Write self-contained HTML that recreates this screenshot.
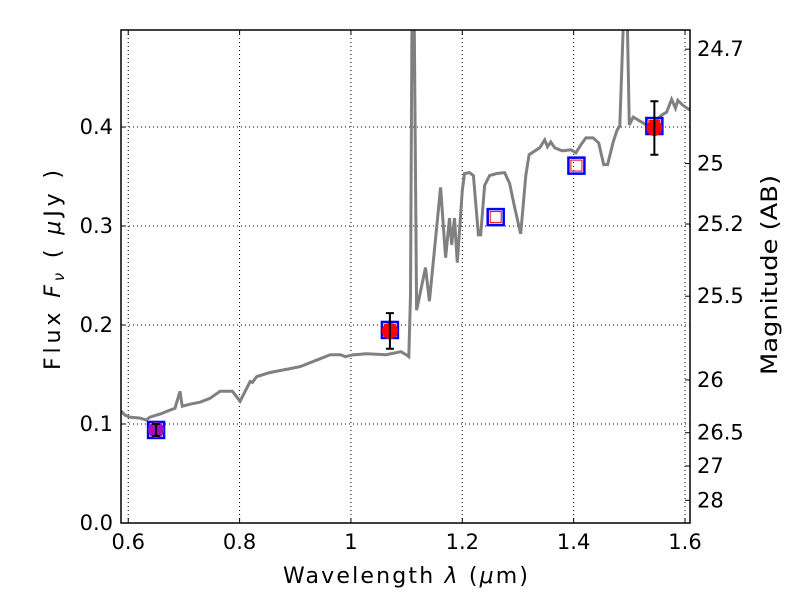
<!DOCTYPE html>
<html><head><meta charset="utf-8"><style>
body{margin:0;background:#fff;}
svg text{font-family:"DejaVu Sans","Liberation Sans",sans-serif;}
</style></head><body>
<svg id="chart" width="800" height="600" xmlns="http://www.w3.org/2000/svg"></svg>
<script>
const specWave=[0.587,0.594,0.603,0.621,0.632,0.639,0.657,0.675,0.684,0.693,0.697,0.711,0.729,0.747,0.765,0.787,0.801,0.819,0.823,0.831,0.837,0.855,0.873,0.891,0.909,0.927,0.945,0.963,0.981,0.99,1.004,1.008,1.027,1.063,1.090,1.099,1.104,1.107,1.110,1.113,1.118,1.134,1.141,1.161,1.170,1.177,1.181,1.186,1.191,1.200,1.204,1.213,1.220,1.229,1.233,1.240,1.249,1.262,1.276,1.285,1.294,1.305,1.314,1.320,1.339,1.348,1.353,1.359,1.366,1.375,1.380,1.395,1.404,1.413,1.422,1.435,1.445,1.454,1.461,1.471,1.478,1.483,1.492,1.495,1.500,1.507,1.519,1.537,1.558,1.567,1.576,1.583,1.587,1.596,1.609];
const specFlux=[0.113,0.109,0.107,0.106,0.104,0.107,0.110,0.114,0.116,0.133,0.118,0.120,0.122,0.126,0.133,0.133,0.123,0.143,0.142,0.148,0.149,0.152,0.154,0.156,0.158,0.162,0.166,0.170,0.170,0.168,0.170,0.170,0.171,0.170,0.173,0.170,0.168,0.230,0.55,0.55,0.215,0.258,0.224,0.339,0.268,0.308,0.281,0.308,0.263,0.336,0.353,0.354,0.351,0.291,0.291,0.341,0.351,0.353,0.354,0.343,0.319,0.292,0.351,0.372,0.379,0.387,0.380,0.385,0.379,0.377,0.376,0.377,0.374,0.382,0.389,0.389,0.384,0.362,0.362,0.385,0.397,0.401,0.55,0.55,0.402,0.410,0.406,0.400,0.412,0.415,0.428,0.419,0.427,0.422,0.417];
const photWave=[0.65,1.07,1.545];
const photFlux=[0.094,0.194,0.399];
const photErr=[0.006,0.018,0.027];
const photColor=['#a010c0','#ff0000','#ff0000'];
const modelWave=[0.65,1.07,1.26,1.405,1.545];
const modelFlux=[0.094,0.195,0.309,0.361,0.401];
const xTicks=[0.6,0.8,1.0,1.2,1.4,1.6];
const xTickLabels=['0.6','0.8','1','1.2','1.4','1.6'];
const yTicks=[0,0.1,0.2,0.3,0.4];
const yTickLabels=['0.0','0.1','0.2','0.3','0.4'];
const magTicks=[24.7,25,25.2,25.5,26,26.5,27,28];
const magLabels=['24.7','25','25.2','25.5','26','26.5','27','28'];

const L=121,R=690,T=30,B=523,X0=0.587,X1=1.609,Y0=0,Y1=0.498;
const sx=v=>L+(v-X0)/(X1-X0)*(R-L);
const sy=v=>B-(v-Y0)/(Y1-Y0)*(B-T);
const svg=document.getElementById('chart');
const NS='http://www.w3.org/2000/svg';
function mk(tag,attrs,parent){const e=document.createElementNS(NS,tag);for(const k in attrs)e.setAttribute(k,attrs[k]);(parent||svg).appendChild(e);return e;}
const cp=mk('clipPath',{id:'clip'});mk('rect',{x:L,y:T,width:R-L,height:B-T},cp);
xTicks.forEach((v,i)=>{const x=sx(v);
 let g=mk('line',{x1:x,x2:x,y1:T,y2:B,stroke:'#000','stroke-dasharray':'1,3','stroke-width':1});
 
 mk('line',{x1:x,x2:x,y1:B,y2:B-5,stroke:'#000'});mk('line',{x1:x,x2:x,y1:T,y2:T+5,stroke:'#000'});
 let t=mk('text',{x:x,y:B+26,'text-anchor':'middle','font-size':21});t.textContent=xTickLabels[i];
 });
yTicks.forEach((v,i)=>{const y=sy(v);
 let g=mk('line',{x1:L,x2:R,y1:y,y2:y,stroke:'#000','stroke-dasharray':'1,3','stroke-width':1});
 
 mk('line',{x1:L,x2:L+5,y1:y,y2:y,stroke:'#000'});
 let t=mk('text',{x:L-8,y:y+7,'text-anchor':'end','font-size':21});t.textContent=yTickLabels[i];
 });
magTicks.forEach((m,i)=>{const y=sy(Math.pow(10,(23.9-m)/2.5));
 mk('line',{x1:R,x2:R-5,y1:y,y2:y,stroke:'#000'});
 let t=mk('text',{x:R+7,y:y+7,'font-size':21});t.textContent=magLabels[i];
 });
let d=specWave.map((w,i)=>(i?'L':'M')+sx(w).toFixed(1)+','+sy(specFlux[i]).toFixed(1)).join(' ');
const sp=mk('path',{d:d,fill:'none',stroke:'#808080','stroke-width':3,'clip-path':'url(#clip)'});

modelWave.forEach((w,i)=>{const x=sx(w),y=sy(modelFlux[i]);
 const s=mk('rect',{x:x-8,y:y-8,width:16,height:16,fill:'none',stroke:'#0000ff','stroke-width':2.5});
 
 mk('rect',{x:x-5.5,y:y-5.5,width:11,height:11,fill:'none',stroke:'#ff0000','stroke-width':1});});
photWave.forEach((w,i)=>{const x=sx(w),y=sy(photFlux[i]);
 const c=mk('circle',{cx:x,cy:y,r:8,fill:photColor[i]});
 
 const y1=sy(photFlux[i]+photErr[i]),y2=sy(photFlux[i]-photErr[i]);
 const e=mk('path',{d:`M${x},${y1}L${x},${y2}M${x-4},${y1}L${x+4},${y1}M${x-4},${y2}L${x+4},${y2}`,stroke:'#000','stroke-width':2,fill:'none'});
 });
const fr=mk('rect',{x:L,y:T,width:R-L,height:B-T,fill:'none',stroke:'#000','stroke-width':1.5});

</script>
<svg width="800" height="600" style="position:absolute;left:0;top:0;pointer-events:none" xmlns="http://www.w3.org/2000/svg">
<text x="283" y="583" textLength="245" lengthAdjust="spacing" font-size="22" font-family="DejaVu Sans, Liberation Sans, sans-serif">Wavelength  <tspan font-style="italic">λ</tspan> (<tspan font-style="italic">μ</tspan>m)</text>
<text transform="translate(60,370) rotate(-90)" textLength="200" lengthAdjust="spacing" font-size="22" font-family="DejaVu Sans, Liberation Sans, sans-serif">Flux  <tspan font-style="italic">F<tspan font-size="15" dy="4">ν</tspan></tspan><tspan dy="-4">  ( </tspan><tspan font-style="italic">μ</tspan>Jy )</text>
<text transform="translate(777,375) rotate(-90)" textLength="200" lengthAdjust="spacingAndGlyphs" font-size="22" font-family="DejaVu Sans, Liberation Sans, sans-serif">Magnitude (AB)</text>
</svg>
</body></html>
